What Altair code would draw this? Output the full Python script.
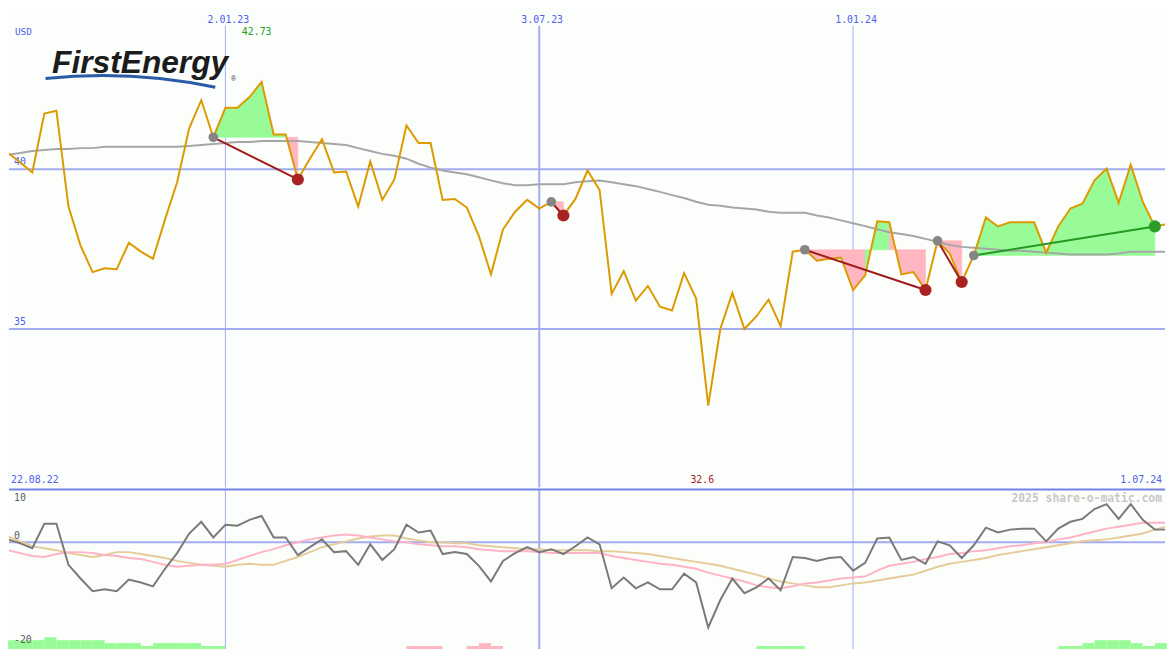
import altair as alt
import pandas as pd

# ---------------- data (weekly, first week 2022-08-29) ----------------
first_week = "2022-08-29"
n_weeks = 97

price = [40.51, 40.21, 39.90, 41.74, 41.83, 38.83, 37.61, 36.78, 36.90, 36.87,
         37.70, 37.42, 37.20, 38.43, 39.59, 41.28, 42.16, 41.00,
         41.92, 41.92, 42.26, 42.73, 41.09, 41.09, 39.68, 40.33, 40.94, 39.90,
         39.93, 38.83, 40.24, 39.04, 39.68, 41.37, 40.82, 40.82, 39.04, 39.07,
         38.80, 37.91, 36.71, 38.12, 38.67, 39.04, 38.77, 38.98, 38.55, 39.07,
         39.96, 39.35, 36.10, 36.81, 35.89, 36.35, 35.70, 35.58, 36.75, 35.95,
         32.60, 35.00, 36.13, 35.00, 35.40, 35.92, 35.09, 37.42, 37.48, 37.14,
         37.20, 37.23, 36.22, 36.68, 38.37, 38.34, 36.71, 36.78, 36.22, 37.76,
         37.36, 36.47, 37.30, 38.49, 38.21, 38.34, 38.34, 38.34, 37.39, 38.21,
         38.77, 38.92, 39.65, 40.02, 38.95, 40.14, 38.98, 38.21, 38.28]

ma_long = [40.45, 40.51, 40.57, 40.60, 40.63, 40.63, 40.66, 40.66, 40.70, 40.70,
           40.70, 40.70, 40.70, 40.70, 40.70, 40.73, 40.76, 40.79, 40.82, 40.85,
           40.85, 40.88, 40.88, 40.88, 40.88, 40.85, 40.82, 40.79, 40.76, 40.66,
           40.57, 40.48, 40.42, 40.33, 40.17, 40.05, 39.96, 39.90, 39.84, 39.75,
           39.65, 39.56, 39.50, 39.50, 39.53, 39.53, 39.53, 39.59, 39.62, 39.65,
           39.59, 39.53, 39.47, 39.38, 39.29, 39.19, 39.10, 38.98, 38.89, 38.86,
           38.80, 38.77, 38.74, 38.67, 38.64, 38.64, 38.64, 38.55, 38.49, 38.40,
           38.31, 38.22, 38.12, 38.03, 37.97, 37.91, 37.82, 37.73, 37.63, 37.57,
           37.54, 37.51, 37.48, 37.45, 37.45, 37.42, 37.39, 37.36, 37.33, 37.33,
           37.33, 37.33, 37.36, 37.42, 37.42, 37.42, 37.42]

momentum = [0.57, -0.19, -1.13, 3.58, 3.58, -4.34, -6.98, -9.43, -9.06, -9.43,
            -7.17, -7.74, -8.49, -5.09, -2.08, 1.70, 3.96, 0.94,
            3.40, 3.21, 4.34, 5.09, 0.94, 0.94, -2.45, -0.94, 0.57, -1.89,
            -1.70, -4.34, -0.38, -3.40, -1.32, 3.40, 1.89, 2.26, -2.26, -1.89,
            -2.26, -4.53, -7.55, -3.58, -2.08, -0.94, -1.89, -1.32, -2.26, -0.75,
            0.94, -0.38, -8.87, -6.79, -8.87, -7.74, -9.06, -9.06, -6.04, -7.74,
            -16.42, -11.13, -6.98, -9.81, -8.68, -6.98, -9.25, -2.83, -3.02, -3.58,
            -3.02, -2.83, -5.47, -3.96, 0.75, 0.94, -3.40, -2.83, -4.15, 0.19,
            -0.57, -3.02, -0.57, 2.83, 1.89, 2.45, 2.64, 2.64, 0.19, 2.64,
            3.96, 4.53, 6.42, 7.36, 4.53, 7.36, 4.34, 2.45, 2.45]

mom_fast = [-1.51, -2.08, -2.64, -2.83, -2.26, -1.89, -1.89, -2.08, -2.45, -2.64,
            -3.02, -3.21, -3.77, -4.34, -4.72, -4.53, -4.34, -4.34,
            -4.15, -3.40, -2.64, -1.89, -1.32, -0.57, 0.00, 0.57, 0.94, 1.32,
            1.51, 1.32, 0.94, 0.57, 0.19, 0.00, -0.38, -0.57, -0.75, -0.75,
            -0.94, -1.32, -1.51, -1.70, -1.70, -1.70, -1.89, -2.08, -2.08, -2.08,
            -2.08, -2.08, -2.64, -3.02, -3.40, -3.77, -4.15, -4.34, -4.72, -5.09,
            -5.85, -6.42, -6.98, -7.55, -8.30, -8.68, -8.87, -8.49, -7.92, -7.74,
            -7.36, -6.98, -6.79, -6.60, -5.47, -4.53, -4.15, -3.77, -3.21, -2.83,
            -2.26, -2.08, -1.70, -1.51, -1.13, -0.75, -0.57, -0.19, 0.00, 0.57,
            0.94, 1.51, 2.08, 2.64, 3.02, 3.40, 3.77, 3.77, 3.77]

mom_slow = [1.13, 0.19, -0.75, -1.13, -1.51, -2.08, -2.45, -2.83, -2.45, -1.89,
            -1.89, -2.26, -2.64, -3.02, -3.58, -3.96, -4.34, -4.53,
            -4.72, -4.34, -4.15, -4.34, -4.34, -3.58, -2.83, -1.89, -0.94, -0.38,
            0.19, 0.75, 1.13, 1.32, 1.32, 0.75, 0.38, 0.00, 0.00, -0.19,
            -0.19, -0.57, -0.75, -0.94, -1.13, -1.32, -1.32, -1.51, -1.51, -1.51,
            -1.51, -1.70, -1.70, -1.89, -2.08, -2.26, -2.64, -3.02, -3.40, -3.77,
            -4.15, -4.53, -5.09, -5.66, -6.23, -6.98, -7.55, -7.92, -8.30, -8.68,
            -8.68, -8.30, -7.92, -7.74, -7.36, -6.98, -6.60, -6.23, -5.47, -4.72,
            -4.15, -3.77, -3.40, -3.02, -2.45, -2.08, -1.70, -1.32, -0.94, -0.57,
            -0.19, 0.19, 0.38, 0.57, 0.94, 1.32, 1.70, 2.45, 3.02]

flow = [3, 3, 3, 4, 3, 3, 3, 3, 2, 2, 2, 1, 2, 2, 2, 2, 1, 1,
        0, 0, 0, 0, 0, 0, 0, 0, 0, 0, 0, 0, 0, 0, 0,
        -1, -1, -1, 0, 0, -1, -2, -1,
        0, 0, 0, 0, 0, 0, 0, 0, 0, 0, 0, 0, 0, 0, 0, 0, 0, 0, 0, 0, 0,
        1, 1, 1, 1,
        0, 0, 0, 0, 0, 0, 0, 0, 0, 0, 0, 0, 0, 0, 0, 0, 0, 0, 0, 0, 0,
        1, 1, 2, 3, 3, 3, 2, 1, 2, 0]

sig_start = ["2022-12-26", "2023-07-10", "2023-12-04", "2024-02-19", "2024-03-11"]
sig_end = ["2023-02-13", "2023-07-17", "2024-02-12", "2024-03-04", "2024-06-24"]

grid_dates = ["2023-01-02", "2023-07-03", "2024-01-01"]
grid_labels = ["2.01.23", "3.07.23", "1.01.24"]
price_ticks = [40, 35]
ind_ticks = [10, 0, -20]
period_labels = ["22.08.22", "1.07.24"]
currency = "USD"
company = "FirstEnergy"
credit = "2025 share-o-matic.com"

# ---------------- styling / layout ----------------
W, MAIN_H, LOW_H = 1167, 481, 161
X_DOMAIN = [0.5, 670.9]
P_DOMAIN = [30.04, 44.95]
V_DOMAIN = [-20.57, 10.19]
LEVEL_PX = 2.963
BG = "#fcfefc"
BLUE = "#5060ee"
GRID = "#a3acf0"
SEP = "#7282e6"
MONO = "DejaVu Sans Mono"
ORANGE = "#dd9a00"
GREEN_FILL = "#98fb98"
PINK_FILL = "#ffb6c1"

weeks = pd.date_range(first_week, periods=n_weeks, freq="7D")
t0 = weeks[0]
day = [(w - t0).days for w in weeks]


def idx(d):
    return (pd.Timestamp(d) - t0).days // 7


df = pd.DataFrame({"day": day, "price": price, "ma": ma_long, "mom": momentum,
                   "fast": mom_fast, "slow": mom_slow})

bars = pd.DataFrame({"day": day, "day_end": [d + 7 for d in day],
                     "level": [abs(v) for v in flow],
                     "col": [GREEN_FILL if v > 0 else PINK_FILL for v in flow]})
bars = bars[bars["level"] > 0]

fill_rows, sig_rows, start_rows, end_rows = [], [], [], []
for s, (a, b) in enumerate(zip(sig_start, sig_end)):
    ia, ib = idx(a), idx(b)
    base = price[ia]
    gain = price[ib] > base
    runs = []
    for i in range(ia, ib):
        col = GREEN_FILL if price[i + 1] >= base else PINK_FILL
        if not runs or runs[-1]["col"] != col:
            runs.append({"col": col, "pts": [i]})
        runs[-1]["pts"].append(i + 1)
    for r, run in enumerate(runs):
        for j in run["pts"]:
            fill_rows.append({"seg": f"{s}-{r}", "day": day[j], "price": price[j],
                              "base": base, "col": run["col"]})
    lc = "#229922" if gain else "#a01c1c"
    sig_rows.append({"seg": s, "day": day[ia], "price": base, "col": lc})
    sig_rows.append({"seg": s, "day": day[ib], "price": price[ib], "col": lc})
    start_rows.append({"day": day[ia], "price": base})
    end_rows.append({"day": day[ib], "price": price[ib],
                     "col": "#2a9d2a" if gain else "#a82222"})

fill_df = pd.DataFrame(fill_rows)
sig_df = pd.DataFrame(sig_rows)
start_df = pd.DataFrame(start_rows)
end_df = pd.DataFrame(end_rows)

grid_df = pd.DataFrame({"day": [idx(d) * 7 for d in grid_dates], "label": grid_labels})
ptick_df = pd.DataFrame({"value": price_ticks, "label": [str(v) for v in price_ticks]})
vtick_df = pd.DataFrame({"value": ind_ticks, "label": [str(v) for v in ind_ticks]})

imax = price.index(max(price))
imin = price.index(min(price))
ext_df = pd.DataFrame({"day": [day[imax], day[imin]],
                       "label": [f"{price[imax]:g}", f"{price[imin]:g}"]})

X = alt.X("day:Q", scale=alt.Scale(domain=X_DOMAIN, nice=False, zero=False), axis=None)


def YP(f):
    return alt.Y(f"{f}:Q", scale=alt.Scale(domain=P_DOMAIN, nice=False, zero=False),
                 axis=None, stack=None)


def YV(f):
    return alt.Y(f"{f}:Q", scale=alt.Scale(domain=V_DOMAIN, nice=False, zero=False),
                 axis=None)


width_cond = alt.condition("datum.label == '3.07.23'", alt.value(2), alt.value(1))

# ---------------- main panel ----------------
fills = alt.Chart(fill_df).mark_area(clip=True, interpolate="linear", opacity=1,
                                     strokeWidth=0.6).encode(
    x=X, y=YP("price"), y2="base:Q", color=alt.Color("col:N", scale=None),
    stroke=alt.Stroke("col:N", scale=None), detail="seg:N")

vgrid = alt.Chart(grid_df).mark_rule(color=GRID).encode(
    x=X, y=alt.value(14.8), y2=alt.value(MAIN_H), strokeWidth=width_cond)
hgrid = alt.Chart(ptick_df).mark_rule(color=GRID, strokeWidth=2).encode(y=YP("value"))
hlab = alt.Chart(ptick_df).mark_text(align="left", baseline="bottom", dy=-2, font=MONO,
                                     fontSize=10, color=BLUE).encode(
    x=alt.value(5), y=YP("value"), text="label:N")

ma_line = alt.Chart(df).mark_line(color="#a6a6a6", strokeWidth=2, clip=True).encode(
    x=X, y=YP("ma"))
price_line = alt.Chart(df).mark_line(color=ORANGE, strokeWidth=2, clip=True).encode(
    x=X, y=YP("price"))
sig_lines = alt.Chart(sig_df).mark_line(strokeWidth=2).encode(
    x=X, y=YP("price"), color=alt.Color("col:N", scale=None), detail="seg:N")
start_dots = alt.Chart(start_df).mark_circle(size=95, opacity=1, color="#858585").encode(
    x=X, y=YP("price"))
end_dots = alt.Chart(end_df).mark_circle(size=150, opacity=1).encode(
    x=X, y=YP("price"), color=alt.Color("col:N", scale=None))

date_lab = alt.Chart(grid_df).mark_text(font=MONO, fontSize=10, color=BLUE, dx=3,
                                        baseline="middle").encode(
    x=X, y=alt.value(8.9), text="label:N")
max_lab = alt.Chart(ext_df.iloc[[0]]).mark_text(font=MONO, fontSize=10, color="#22a022",
                                                dx=-5, baseline="middle").encode(
    x=X, y=alt.value(20.7), text="label:N")
min_lab = alt.Chart(ext_df.iloc[[1]]).mark_text(font=MONO, fontSize=10, color="#a01c1c",
                                                dx=-6, baseline="middle").encode(
    x=X, y=alt.value(473.1), text="label:N")
per_df = pd.DataFrame({"label": period_labels})
per_l = alt.Chart(per_df.iloc[[0]]).mark_text(font=MONO, fontSize=10, color=BLUE,
                                              align="left", baseline="middle").encode(
    x=alt.value(2), y=alt.value(473.1), text="label:N")
per_r = alt.Chart(per_df.iloc[[1]]).mark_text(font=MONO, fontSize=10, color=BLUE,
                                              align="right", baseline="middle").encode(
    x=alt.value(1164), y=alt.value(473.1), text="label:N")
usd = alt.Chart(pd.DataFrame({"label": [currency]})).mark_text(
    font=MONO, fontSize=9.5, color=BLUE, align="left", baseline="middle").encode(
    x=alt.value(6), y=alt.value(21.2), text="label:N")

logo_df = pd.DataFrame({"name": [company]})
logo = alt.Chart(logo_df).mark_text(
    font="Liberation Sans", fontWeight="bold", fontStyle="italic",
    fontSize=32, color="#1c1c1c", align="left", baseline="alphabetic").encode(
    x=alt.value(43.5), y=alt.value(62.3), text="name:N")
logo_r = alt.Chart(logo_df).mark_text(font="Liberation Sans", fontSize=7, color="#333333",
                                      align="left", baseline="middle").encode(
    x=alt.value(224), y=alt.value(68.5), text=alt.value("\u00ae"))
swoosh = alt.Chart(logo_df).mark_arc(color="#2a5aa8").encode(
    x=alt.value(94.3), y=alt.value(617.1), theta=alt.value(6.1789),
    theta2=alt.value(6.4911), radius=alt.value(553.5), radius2=alt.value(550.5))

main = alt.layer(
    vgrid, fills, hgrid, hlab, swoosh, logo, logo_r, ma_line, price_line, sig_lines,
    start_dots, end_dots, date_lab, max_lab, min_lab, per_l, per_r, usd
).properties(width=W, height=MAIN_H)

# ---------------- indicator panel ----------------
vgrid_low = alt.Chart(grid_df).mark_rule(color=GRID).encode(x=X, strokeWidth=width_cond)
bar_marks = alt.Chart(bars).mark_rect().encode(
    x=X, x2="day_end:Q",
    y=alt.Y("level:Q", scale=alt.Scale(domain=[0, LOW_H / LEVEL_PX], nice=False), axis=None),
    y2=alt.datum(0), color=alt.Color("col:N", scale=None))
zero_rule = alt.Chart(vtick_df[vtick_df["value"] == 0]).mark_rule(
    color=GRID, strokeWidth=2).encode(y=YV("value"))
slow_line = alt.Chart(df).mark_line(color="#e5cc99", strokeWidth=2, clip=True).encode(
    x=X, y=YV("slow"))
fast_line = alt.Chart(df).mark_line(color="#ffb3c6", strokeWidth=2, clip=True).encode(
    x=X, y=YV("fast"))
mom_line = alt.Chart(df).mark_line(color="#7a7a7a", strokeWidth=2, clip=True).encode(
    x=X, y=YV("mom"))
vlab_top = alt.Chart(vtick_df[vtick_df["value"] > 0]).mark_text(
    font=MONO, fontSize=10, color="#606060", align="left", baseline="top", dy=3).encode(
    x=alt.value(5), y=YV("value"), text="label:N")
vlab_bot = alt.Chart(vtick_df[vtick_df["value"] <= 0]).mark_text(
    font=MONO, fontSize=10, color="#606060", align="left", baseline="bottom", dy=-1).encode(
    x=alt.value(5), y=YV("value"), text="label:N")
credit_txt = alt.Chart(pd.DataFrame({"label": [credit]})).mark_text(
    font=MONO, fontSize=11.5, fontWeight="bold", color="#c8c8c8", align="right",
    baseline="middle").encode(x=alt.value(1164), y=alt.value(9.4), text="label:N")
sep = alt.Chart(logo_df).mark_rule(color=SEP, strokeWidth=2).encode(y=alt.value(0))

lower = alt.layer(
    vgrid_low, bar_marks, zero_rule, slow_line, fast_line, mom_line, vlab_top, vlab_bot,
    credit_txt, sep
).resolve_scale(y="independent").properties(width=W, height=LOW_H)

chart = alt.vconcat(main, lower, spacing=0).properties(
    padding=0, background=BG
).configure_view(stroke=None)

chart.save("out.html", embed_options={"renderer": "svg", "actions": False})
